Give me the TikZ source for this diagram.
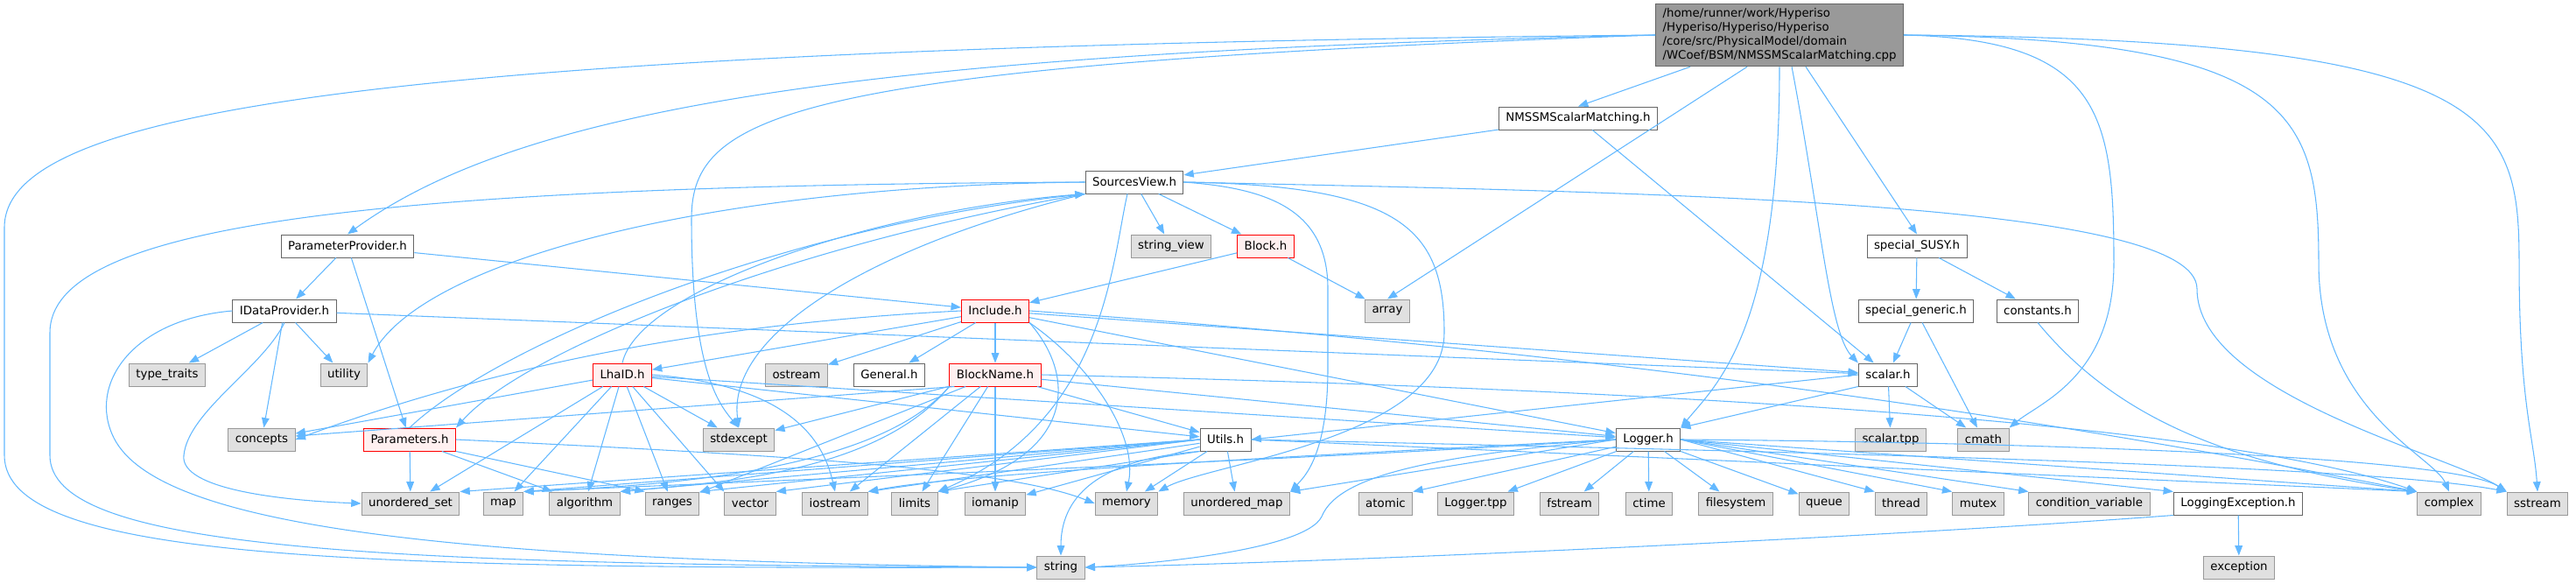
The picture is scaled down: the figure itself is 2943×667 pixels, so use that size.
\documentclass[tikz,border=0pt]{standalone}
\usepackage{fontspec}
\setmainfont{DejaVu Sans}
\usetikzlibrary{arrows.meta,calc}
\definecolor{depblue}{HTML}{63B8FF}
\begin{document}
\begin{tikzpicture}[x=0.75pt,y=-0.75pt,
    box/.style={draw=black!60,fill=white,line width=0.75pt,minimum height=19.5pt,inner xsep=6pt,inner ysep=0pt},
    sysbox/.style={box,draw=black!40,fill=black!12},
    redbox/.style={box,draw=red,fill=red!6},
    mainbox/.style={box,fill=black!40,align=left,inner xsep=6pt,inner ysep=4pt},
    dep/.style={draw=depblue,line width=0.8pt,-{Triangle[length=8.5pt,width=6.5pt]}}]
  \useasboundingbox (0,0) rectangle (2943,667);

  \node[mainbox] (main) at (2033,40) {/home/runner/work/Hyperiso\\/Hyperiso/Hyperiso/Hyperiso\\/core/src/PhysicalModel/domain\\/WCoef/BSM/NMSSMScalarMatching.cpp};
  \node[box] (nm) at (1803,135) {NMSSMScalarMatching.h};
  \node[box] (sv) at (1296,208) {SourcesView.h};
  \node[box] (pp) at (397,281) {ParameterProvider.h};
  \node[sysbox] (sview) at (1338,281) {string\_view};
  \node[redbox] (block) at (1446,281) {Block.h};
  \node[box] (susy) at (2190,281) {special\_SUSY.h};
  \node[box] (idp) at (325,355) {IDataProvider.h};
  \node[redbox] (incl) at (1137,355) {Include.h};
  \node[sysbox] (arr) at (1585,355) {array};
  \node[box] (sgen) at (2189,355) {special\_generic.h};
  \node[box] (consts) at (2328,355) {constants.h};
  \node[sysbox] (ttr) at (191,428) {type\_traits};
  \node[sysbox] (util) at (393,428) {utility};
  \node[redbox] (lha) at (711,428) {LhaID.h};
  \node[sysbox] (ostr) at (910,428) {ostream};
  \node[box] (gen) at (1016,428) {General.h};
  \node[redbox] (bname) at (1137,428) {BlockName.h};
  \node[box] (scal) at (2157,428) {scalar.h};
  \node[sysbox] (conc) at (299,502) {concepts};
  \node[redbox] (par) at (468,502) {Parameters.h};
  \node[sysbox] (stdex) at (844,502) {stdexcept};
  \node[box] (utils) at (1400,502) {Utils.h};
  \node[box] (logger) at (1883,502) {Logger.h};
  \node[sysbox] (stpp) at (2160,502) {scalar.tpp};
  \node[sysbox] (cmath) at (2266,502) {cmath};
  \node[sysbox] (uset) at (469,575) {unordered\_set};
  \node[sysbox] (map) at (575,575) {map};
  \node[sysbox] (algo) at (668,575) {algorithm};
  \node[sysbox] (rng) at (768,575) {ranges};
  \node[sysbox] (vec) at (857,575) {vector};
  \node[sysbox] (iostr) at (954,575) {iostream};
  \node[sysbox] (lim) at (1045,575) {limits};
  \node[sysbox] (ioman) at (1137,575) {iomanip};
  \node[sysbox] (mem) at (1287,575) {memory};
  \node[sysbox] (umap) at (1413,575) {unordered\_map};
  \node[sysbox] (atom) at (1583,575) {atomic};
  \node[sysbox] (ltpp) at (1686,575) {Logger.tpp};
  \node[sysbox] (fstr) at (1793,575) {fstream};
  \node[sysbox] (ctime) at (1884,575) {ctime};
  \node[sysbox] (fsys) at (1983,575) {filesystem};
  \node[sysbox] (queue) at (2084,575) {queue};
  \node[sysbox] (thread) at (2172,575) {thread};
  \node[sysbox] (mutex) at (2260,575) {mutex};
  \node[sysbox] (cvar) at (2387,575) {condition\_variable};
  \node[box] (lexc) at (2557,575) {LoggingException.h};
  \node[sysbox] (cplx) at (2798,575) {complex};
  \node[sysbox] (sstr) at (2899,575) {sstream};
  \node[sysbox] (str) at (1212,648) {string};
  \node[sysbox] (exc) at (2558,648) {exception};

  % main file
  \draw[dep] ($(main.south west)+(40,0)$) -- (nm.north);
  \draw[dep] ($(main.south west)+(105,0)$) -- (arr.north);
  \draw[dep] (main.south) .. controls (2033,380) and (1960,440) .. (logger.north east);
  \draw[dep] ($(main.south west)+(156,0)$) .. controls (2080,250) and (2090,380) .. (scal.north west);
  \draw[dep] ($(main.south west)+(172,0)$) -- (susy.north);
  \draw[dep] (main.west) .. controls (1000,60) and (600,120) .. (pp.north);
  \draw[dep] (main.west) .. controls (900,75) and (790,130) .. (790,250) .. controls (790,420) and (820,460) .. (stdex.north);
  \draw[dep] (main.west) .. controls (400,55) and (5,130) .. (5,260) -- (5,520) .. controls (5,640) and (400,650) .. (str.west);
  \draw[dep] (main.east) .. controls (2400,45) and (2415,130) .. (2415,300) .. controls (2415,430) and (2330,460) .. (cmath.north east);
  \draw[dep] (main.east) .. controls (2620,45) and (2649,130) .. (2649,300) .. controls (2649,470) and (2780,520) .. (cplx.north);
  \draw[dep] (main.east) .. controls (2850,45) and (2878,130) .. (2878,300) .. controls (2878,460) and (2895,500) .. (sstr.north);

  \draw[dep] (nm) -- (sv);
  \draw[dep] (nm) -- (scal);

  % SourcesView.h
  \draw[dep] (sv) -- (sview);
  \draw[dep] (sv) -- (block);
  \draw[dep] (sv.west) .. controls (800,212) and (480,300) .. (util.north east);
  \draw[dep] (sv.west) .. controls (400,212) and (57,260) .. (57,380) -- (57,520) .. controls (57,625) and (400,645) .. (str.west);
  \draw[dep] (sv.south west) .. controls (900,280) and (600,400) .. (par.north east);
  \draw[dep] (sv.south west) .. controls (1000,280) and (830,380) .. (stdex.north);
  \draw[dep] ($(sv.south)+(-8,0)$) .. controls (1270,300) and (1262,480) .. (lim.north east);
  \draw[dep] (sv.east) .. controls (1450,215) and (1517,240) .. (1517,330) -- (1517,420) .. controls (1517,520) and (1490,545) .. (umap.north east);
  \draw[dep] (sv.east) .. controls (1600,212) and (1650,260) .. (1650,380) .. controls (1650,500) and (1380,530) .. (mem.north east);
  \draw[dep] (sv.east) .. controls (1900,220) and (2510,230) .. (2510,330) .. controls (2510,450) and (2800,520) .. (sstr.north west);

  \draw[dep] (block) -- (incl);
  \draw[dep] (block) -- (arr);

  \draw[dep] (pp) -- (idp);
  \draw[dep] (pp) -- (par);
  \draw[dep] (pp) -- (incl);

  % IDataProvider.h
  \draw[dep] (idp) -- (ttr);
  \draw[dep] (idp) -- (util);
  \draw[dep] (idp) -- (conc);
  \draw[dep] (idp) -- (scal);
  \draw[dep] (idp.south) .. controls (300,420) and (215,470) .. (210,520) .. controls (205,560) and (330,572) .. (uset.west);
  \draw[dep] (idp.west) .. controls (150,365) and (100,440) .. (130,500) .. controls (180,600) and (500,640) .. (str.west);

  % Include.h
  \draw[dep] (incl) -- (lha);
  \draw[dep] (incl) -- (ostr);
  \draw[dep] (incl) -- (gen);
  \draw[dep] (incl) -- (bname);
  \draw[dep] (incl.west) .. controls (800,370) and (560,420) .. (conc.east);
  \draw[dep] (incl) -- (logger);
  \draw[dep] (incl) -- (scal);
  \draw[dep] (incl.east) .. controls (1800,400) and (2300,470) .. (cplx.north west);
  \draw[dep] (incl.south east) .. controls (1250,420) and (1300,500) .. (mem.north);
  \draw[dep] (incl.south east) .. controls (1230,430) and (1230,520) .. (lim.north east);

  % LhaID.h
  \draw[dep] (lha.north) .. controls (730,330) and (1000,240) .. (sv.south west);
  \draw[dep] (lha) -- (conc);
  \draw[dep] (lha) -- (uset);
  \draw[dep] (lha) -- (map);
  \draw[dep] (lha) -- (algo);
  \draw[dep] (lha) -- (rng);
  \draw[dep] (lha) -- (vec.north west);
  \draw[dep] (lha) -- (stdex);
  \draw[dep] (lha.east) .. controls (900,440) and (940,500) .. (iostr.north);
  \draw[dep] (lha) -- (utils);
  \draw[dep] (lha) -- (logger);

  % Parameters.h
  \draw[dep] (par.north) .. controls (560,400) and (880,260) .. (sv.south west);
  \draw[dep] (par) -- (uset);
  \draw[dep] (par) -- (algo);
  \draw[dep] (par.south east) -- (rng.north west);
  \draw[dep] (par.east) .. controls (900,520) and (1150,535) .. (mem.west);

  % BlockName.h
  \draw[dep] (bname) -- (utils);
  \draw[dep] (bname) -- (logger);
  \draw[dep] ($(bname.south west)+(6,0)$) -- ($(conc.east)+(0,-4)$);
  \draw[dep] (bname) -- (stdex);
  \draw[dep] (bname.south west) .. controls (1000,540) and (750,555) .. (map.north east);
  \draw[dep] (bname.south west) .. controls (1000,545) and (800,552) .. (algo.north east);
  \draw[dep] (bname) -- (rng);
  \draw[dep] (bname) -- (iostr);
  \draw[dep] (bname) -- (lim);
  \draw[dep] (bname) -- (ioman);
  \draw[dep] (bname.east) .. controls (1700,440) and (2500,470) .. (cplx.north west);

  % Utils.h
  \draw[dep] (utils.west) -- (uset.north east);
  \draw[dep] (utils.west) -- (map.north east);
  \draw[dep] (utils.west) -- (algo.north east);
  \draw[dep] (utils.west) -- (rng.north east);
  \draw[dep] (utils.west) -- (vec.north east);
  \draw[dep] (utils) -- (iostr.north east);
  \draw[dep] (utils.south west) -- (lim.north east);
  \draw[dep] (utils) -- (ioman);
  \draw[dep] (utils) -- (mem);
  \draw[dep] (utils) -- (umap);
  \draw[dep] (utils.south west) .. controls (1250,525) and (1212,570) .. (str.north);
  \draw[dep] (utils.east) -- (cplx.north west);
  \draw[dep] (utils.east) .. controls (2000,515) and (2700,530) .. (sstr.north west);

  % Logger.h
  \draw[dep] (logger.west) -- (umap.north east);
  \draw[dep] (logger) -- (atom.north east);
  \draw[dep] (logger) -- (ltpp);
  \draw[dep] (logger) -- (fstr);
  \draw[dep] (logger) -- (ctime);
  \draw[dep] (logger) -- (fsys);
  \draw[dep] (logger) -- (queue);
  \draw[dep] (logger.east) -- (thread.north west);
  \draw[dep] (logger.east) -- (mutex.north west);
  \draw[dep] (logger.east) -- (cvar.north west);
  \draw[dep] (logger.east) -- (lexc.north west);
  \draw[dep] (logger.east) -- (cplx.north west);
  \draw[dep] (logger.east) .. controls (2300,505) and (2800,520) .. (sstr.north west);
  \draw[dep] (logger.west) .. controls (1500,520) and (1100,540) .. (iostr.north east);
  \draw[dep] (logger.west) .. controls (1500,525) and (900,548) .. (map.north east);
  \draw[dep] (logger.west) .. controls (1650,520) and (1530,540) .. (1510,590) .. controls (1490,630) and (1300,645) .. (str.east);

  \draw[dep] (lexc) -- (exc);
  \draw[dep] (lexc.south west) .. controls (2200,610) and (1600,640) .. (str.east);

  % special functions and scalar.h
  \draw[dep] (susy) -- (sgen);
  \draw[dep] (susy) -- (consts);
  \draw[dep] (sgen) -- (scal);
  \draw[dep] (sgen) -- (cmath);
  \draw[dep] (consts.south) .. controls (2420,480) and (2550,530) .. (cplx.north west);
  \draw[dep] (scal.west) -- (utils.east);
  \draw[dep] (scal.south west) -- (logger.north east);
  \draw[dep] (scal) -- (stpp);
  \draw[dep] (scal) -- (cmath);
\end{tikzpicture}
\end{document}
